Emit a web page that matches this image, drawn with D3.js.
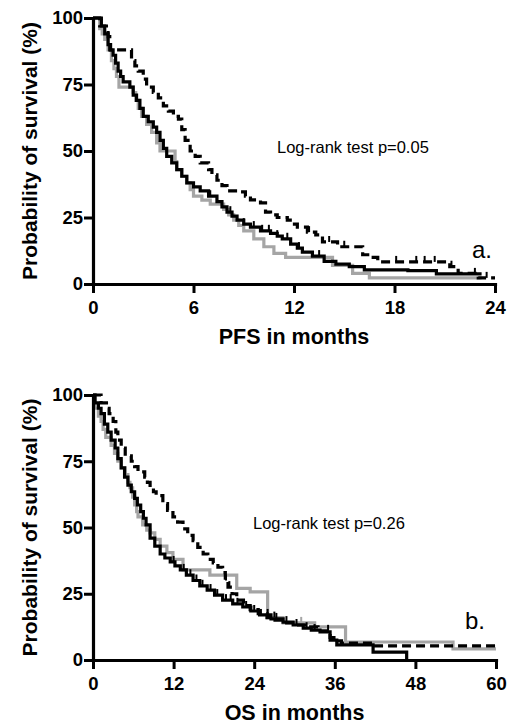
<!DOCTYPE html>
<html>
<head>
<meta charset="utf-8">
<script src="https://cdn.jsdelivr.net/npm/d3@7"></script>
<style>
  body { margin: 0; background: #fff; }
  svg { display: block; }
</style>
</head>
<body>
<script>
// données : [mois, survie %]
const yTicks = [0, 25, 50, 75, 100];
const pfsTicks = [0, 6, 12, 18, 24];
const osTicks = [0, 12, 24, 36, 48, 60];

// PFS (a.)
const pfsDashed = [[0,100],[0.4,97],[0.9,93],[1.0,88],[2.0,88],[2.3,84],[2.5,82],[2.7,80],[3.0,77],[3.2,74],[3.6,72],[3.9,70],[4.2,67],[4.5,65],[4.8,63],[5.1,62],[5.3,58],[5.5,54],[5.8,50],[6.1,48],[6.4,45.5],[6.9,43],[7.1,41],[7.4,39],[7.7,37],[8.0,35],[8.8,34.6],[9.1,33],[9.4,31.6],[10.0,30.5],[10.3,27],[10.6,26],[11.0,25],[11.6,24],[11.9,22.5],[12.2,21.4],[12.8,19.5],[13.3,18.5],[13.7,15.8],[14.6,14],[16.1,11],[16.4,10],[17.0,8.3],[21.3,6.5],[21.8,4],[23.0,2.3],[24,2.3]];
const pfsSolid = [[0,100],[0.5,97],[0.7,94],[0.9,90],[1.05,88],[1.2,86],[1.35,83],[1.5,80],[1.65,78],[1.8,76],[2.2,74],[2.4,71],[2.6,69],[2.8,66],[3.0,63],[3.3,61],[3.6,59],[3.8,57],[4.0,54],[4.2,51],[4.4,48],[4.7,45.5],[5.0,43],[5.3,40.5],[5.6,38],[6.0,36.5],[6.4,35],[6.9,33],[7.4,31],[7.7,29],[8.0,27],[8.3,25.5],[8.6,24],[9.0,22.5],[9.4,21.4],[10.0,20],[10.6,19],[11.0,18],[11.3,17],[11.8,15],[12.2,13.5],[12.5,12],[13.1,10.5],[13.8,8.5],[14.5,7.5],[15.3,6.5],[16.2,5.3],[18.8,5],[20.5,3.8],[23.2,3.8]];
const pfsGray = [[0,100],[0.4,96],[0.55,94],[0.7,92],[0.9,88],[1.1,84],[1.25,81],[1.4,78],[1.55,74],[2.4,72],[2.55,69],[2.7,66],[2.9,63],[3.2,60],[3.5,57],[3.8,53],[4.0,50],[4.9,46],[5.0,43],[5.3,40.5],[5.6,38],[5.8,35.5],[6.0,33],[6.5,31.5],[7.0,30],[7.8,28],[8.1,26],[8.4,24],[8.7,22],[9.0,20],[9.6,17],[10.2,14],[10.8,11.5],[11.5,10],[14.3,7],[15.5,4],[16.5,2.3],[23.2,2.3]];
const pfsDashedCens = [12.9, 14.1, 15.0, 18.1, 19.3, 19.8, 20.4, 21.4, 23.5];
const pfsSolidCens = [7.0, 8.2, 9.0, 9.6, 10.1, 10.5, 11.0, 11.6, 12.3, 13.5, 22.8];
const pfsGrayCens = [];

// OS (b.)
const osDashed = [[0,100],[1.2,97],[2.0,95],[2.4,93],[3.0,90],[3.4,86],[3.7,83],[4.2,80],[4.8,77],[5.7,75],[6.2,73],[6.7,71],[7.7,69],[8.1,67],[8.5,65],[9.0,63.5],[9.4,62],[10.4,59],[11.1,56.5],[11.9,54],[12.6,52],[13.4,49.5],[14.1,47],[14.9,45],[15.6,42.5],[16.4,40],[17.1,38],[17.9,36.6],[18.6,35],[19.3,33],[19.7,30],[20.1,27.5],[20.7,25],[21.4,22.6],[22.4,20.5],[23.4,19],[24.6,17.5],[25.9,16],[27.1,15],[28.3,14],[30.0,13.2],[31.8,12.5],[33.5,11],[35.3,8.5],[36.2,7.2],[37.0,6.4],[41.7,5.3],[60,5.3]];
const osSolid = [[0,100],[0.3,97],[0.8,95],[1.2,93],[1.7,89],[2.2,86],[2.7,83],[3.3,80],[3.7,76],[4.2,72.5],[4.7,69],[5.2,66],[5.7,63.5],[6.2,61],[6.6,58.5],[7.1,56],[7.5,53.5],[7.9,51],[8.5,46],[9.2,43],[10.0,40],[10.7,38.5],[11.5,37],[12.2,35.5],[13.0,34],[13.9,32],[14.9,30],[15.9,28],[17.0,26.4],[18.1,24.5],[19.3,22.6],[20.8,21.2],[22.3,20],[23.5,18.5],[24.8,17],[26.5,15.5],[28.3,14.3],[29.8,13.2],[31.3,12],[32.5,11.3],[33.8,10.6],[35.3,7.5],[36.3,5.7],[41.7,3],[46.7,0]];
const osGray = [[0,100],[0.3,95],[0.8,92],[1.2,90],[1.5,87],[1.9,84],[2.7,81],[3.2,78],[3.7,75],[4.2,72.5],[4.8,70],[5.2,67],[5.5,65],[5.9,61.5],[6.2,58.5],[6.5,56],[6.7,54],[7.4,51],[8.0,49],[8.5,48],[9.2,45.5],[10.0,43],[11.0,40.5],[11.9,38],[13.4,34],[17.4,32],[21.4,27],[23.4,25.7],[26.0,16],[28.3,14],[33.0,12.5],[37.6,6.8],[53.6,4.2],[60,4.2]];
const osDashedCens = [19.8, 20.3, 27.0, 35.0];
const osSolidCens = [12.0, 13.5, 14.5, 15.4, 16.3, 17.5, 18.5, 19.8, 20.5, 21.5, 22.8, 24.0, 25.0, 26.0, 27.3, 28.8, 30.3, 31.8, 33.0];
const osGrayCens = [31.0];

const svg = d3.select("body").append("svg")
  .attr("width", 510)
  .attr("height", 725);

const font = "Liberation Sans, Arial, sans-serif";

// valeur de la courbe en escalier au temps t
function survAt(data, t) {
  let s = data[0][1];
  data.forEach(d => { if (d[0] <= t) s = d[1]; });
  return s;
}

function panel(cfg) {
  const x = d3.scaleLinear().domain([0, cfg.xMax]).range([93, cfg.right]);
  const y = d3.scaleLinear().domain([0, 100]).range([cfg.bottom, cfg.top]);
  const g = svg.append("g");

  const line = d3.line()
    .x(d => x(d[0]))
    .y(d => y(d[1]))
    .curve(d3.curveStepAfter);

  const series = [
    { data: cfg.gray, cens: cfg.grayCens, color: "#a5a5a5", dash: null },
    { data: cfg.solid, cens: cfg.solidCens, color: "#000", dash: null },
    { data: cfg.dashed, cens: cfg.dashedCens, color: "#000", dash: "9,5" }
  ];

  series.forEach(s => {
    g.append("path").datum(s.data)
      .attr("d", line).attr("fill", "none")
      .attr("stroke", s.color).attr("stroke-width", 3.2)
      .attr("stroke-dasharray", s.dash);
    g.selectAll(null).data(s.cens).enter().append("line")
      .attr("x1", d => x(d)).attr("x2", d => x(d))
      .attr("y1", d => y(survAt(s.data, d)))
      .attr("y2", d => y(survAt(s.data, d)) - 6)
      .attr("stroke", s.color).attr("stroke-width", 2);
  });

  // axes
  const ax = g.append("g")
    .attr("transform", `translate(0,${cfg.bottom})`)
    .call(d3.axisBottom(x).tickValues(cfg.xTicks).tickSize(9).tickSizeOuter(0).tickPadding(8));
  const ay = g.append("g")
    .attr("transform", `translate(93,0)`)
    .call(d3.axisLeft(y).tickValues(yTicks).tickSize(9).tickSizeOuter(0).tickPadding(1));

  [ax, ay].forEach(a => {
    a.select(".domain").attr("stroke-width", 3.2).attr("stroke-linecap", "square");
    a.selectAll(".tick line").attr("stroke-width", 3);
    a.selectAll(".tick text")
      .attr("font-family", font)
      .attr("font-weight", "bold")
      .attr("font-size", 18.5)
      .attr("fill", "#000");
  });

  g.append("text")
    .attr("transform", `translate(37,${(cfg.top + cfg.bottom) / 2}) rotate(-90)`)
    .attr("text-anchor", "middle")
    .attr("font-family", font)
    .attr("font-weight", "bold")
    .attr("font-size", 21)
    .text("Probability of survival (%)");

  g.append("text")
    .attr("x", (93 + cfg.right) / 2)
    .attr("y", cfg.bottom + 60)
    .attr("text-anchor", "middle")
    .attr("font-family", font)
    .attr("font-weight", "bold")
    .attr("font-size", 21.5)
    .text(cfg.xTitle);

  g.append("text")
    .attr("x", cfg.logX)
    .attr("y", cfg.logY)
    .attr("font-family", font)
    .attr("font-size", 16.5)
    .text(cfg.logText);

  g.append("text")
    .attr("x", cfg.letterX)
    .attr("y", cfg.letterY)
    .attr("font-family", font)
    .attr("font-size", 24)
    .text(cfg.letter);
}

panel({
  xMax: 24, right: 495, top: 18, bottom: 284, xTicks: pfsTicks,
  dashed: pfsDashed, solid: pfsSolid, gray: pfsGray,
  dashedCens: pfsDashedCens, solidCens: pfsSolidCens, grayCens: pfsGrayCens,
  xTitle: "PFS in months",
  logText: "Log-rank test p=0.05", logX: 277, logY: 153,
  letter: "a.", letterX: 472, letterY: 258
});

panel({
  xMax: 60, right: 496, top: 395, bottom: 660, xTicks: osTicks,
  dashed: osDashed, solid: osSolid, gray: osGray,
  dashedCens: osDashedCens, solidCens: osSolidCens, grayCens: osGrayCens,
  xTitle: "OS in months",
  logText: "Log-rank test p=0.26", logX: 253, logY: 529,
  letter: "b.", letterX: 465, letterY: 629
});
</script>
</body>
</html>
